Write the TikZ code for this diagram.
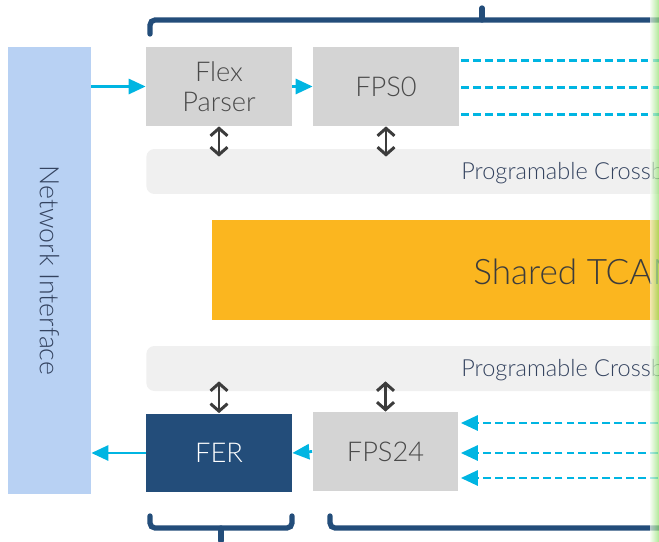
\documentclass[tikz,border=0pt]{standalone}
\usepackage{fontspec}
\setmainfont{Lato Light}
\usetikzlibrary{arrows.meta,calc}
\definecolor{niblue}{HTML}{B8D1F3}
\definecolor{boxgray}{HTML}{D4D4D4}
\definecolor{barback}{HTML}{F0F0F0}
\definecolor{tcamorange}{HTML}{FBB61F}
\definecolor{ferblue}{HTML}{234D7A}
\definecolor{flowcyan}{HTML}{00B5E2}
\definecolor{txtgray}{HTML}{4A4A4A}
\definecolor{txtslate}{HTML}{34435F}
\definecolor{arrgray}{HTML}{3C3C3C}
\definecolor{edgegreen}{HTML}{8EE06A}

\begin{document}
\begin{tikzpicture}[x=0.02cm,y=-0.02cm,
    stage/.style={rectangle,fill=boxgray,minimum width=2.92cm,minimum height=1.58cm,inner sep=0pt,text=txtgray,font=\fontsize{15.5}{17}\selectfont,align=center},
    bar/.style={rectangle,rounded corners=0.16cm,fill=barback,minimum height=0.9cm,minimum width=10.6cm,anchor=west,inner sep=0pt},
    bartext/.style={anchor=west,text=txtslate,font=\fontsize{13.4}{16}\selectfont,inner sep=0pt},
    flow/.style={flowcyan,line width=1.6pt,-{Triangle[length=0.34cm,width=0.3cm]}},
    lane/.style={flowcyan,line width=1.6pt,dash pattern=on 4.5pt off 2.3pt},
    xlink/.style={arrgray,line width=1.7pt,{Straight Barb[length=0.15cm,width=0.34cm]}-{Straight Barb[length=0.15cm,width=0.34cm]}},
    brace/.style={ferblue,line width=3pt,rounded corners=0.1cm,line cap=round}]
    \clip (0,0) rectangle (659,541);

    % blocks
    \node[rectangle,fill=niblue,rotate=-90,minimum width=8.94cm,minimum height=1.66cm,inner sep=0pt,text=txtslate,font=\fontsize{15.2}{17}\selectfont] (ni) at (49.5,270.5) {Network Interface};
    \node[stage] (flex) at (219,86.5) {Flex\\Parser};
    \node[stage] (fps0) at (386,86.5) {FPS0};
    \node[bar] (xbartop) at (146,171.5) {};
    \node[bartext] (xbartoptxt) at (461,173) {Programable Crossbar};
    \node[rectangle,fill=tcamorange,anchor=west,minimum width=9.3cm,minimum height=2cm,inner sep=0pt] (tcam) at (212,270) {};
    \node[anchor=west,inner sep=0pt,text=arrgray,font=\fontsize{20}{23}\selectfont] (tcamtxt) at (473,272) {Shared TCAM};
    \node[bar] (xbarbot) at (146,368.5) {};
    \node[bartext] (xbarbottxt) at (461,370) {Programable Crossbar};
    \node[stage,fill=ferblue,text=white] (fer) at (219,453) {FER};
    \node[stage] (fps24) at (385.5,451.5) {FPS24};
    \coordinate (rim) at (670,0);

    % packet flow
    \draw[flow] (ni.north |- flex.west) -- (flex.west);
    \draw[flow] (flex.east) -- (fps0.west);
    \draw[flow] (fps24.west) -- (fer.east);
    \draw[flow] (fer.west) -- (fer.west -| ni.north);
    \foreach \dy in {-26,1,28}
        \draw[lane] ($(fps0.east)+(2,\dy)$) -- ($(fps0.east -| rim)+(0,\dy)$);
    \foreach \dy in {-28.5,1.5,26.5}
        \draw[lane,-{Triangle[length=0.34cm,width=0.3cm]}] ($(fps24.east -| rim)+(0,\dy)$) -- ($(fps24.east)+(2,\dy)$);

    % crossbar links
    \draw[xlink] (flex.south) -- ([yshift=-0.16cm]flex.south |- xbartop.north);
    \draw[xlink] (fps0.south) -- ([yshift=-0.16cm]fps0.south |- xbartop.north);
    \draw[xlink] ([yshift=0.2cm]fer.north |- xbarbot.south) -- (fer.north);
    \draw[xlink] ([yshift=0.2cm]fps24.north |- xbarbot.south) -- (fps24.north);

    % brackets
    \draw[brace] (150,34) |- (670,20);
    \draw[brace] (482,20) -- (482,8);
    \draw[brace] (150,516) |- (221,528) -| (292,516);
    \draw[brace] (221,528) -- (221,541);
    \draw[brace] (330,516) |- (670,528);

    \shade[left color=edgegreen!10,right color=edgegreen,opacity=0.7] (650,0) rectangle (659,541);
\end{tikzpicture}
\end{document}
